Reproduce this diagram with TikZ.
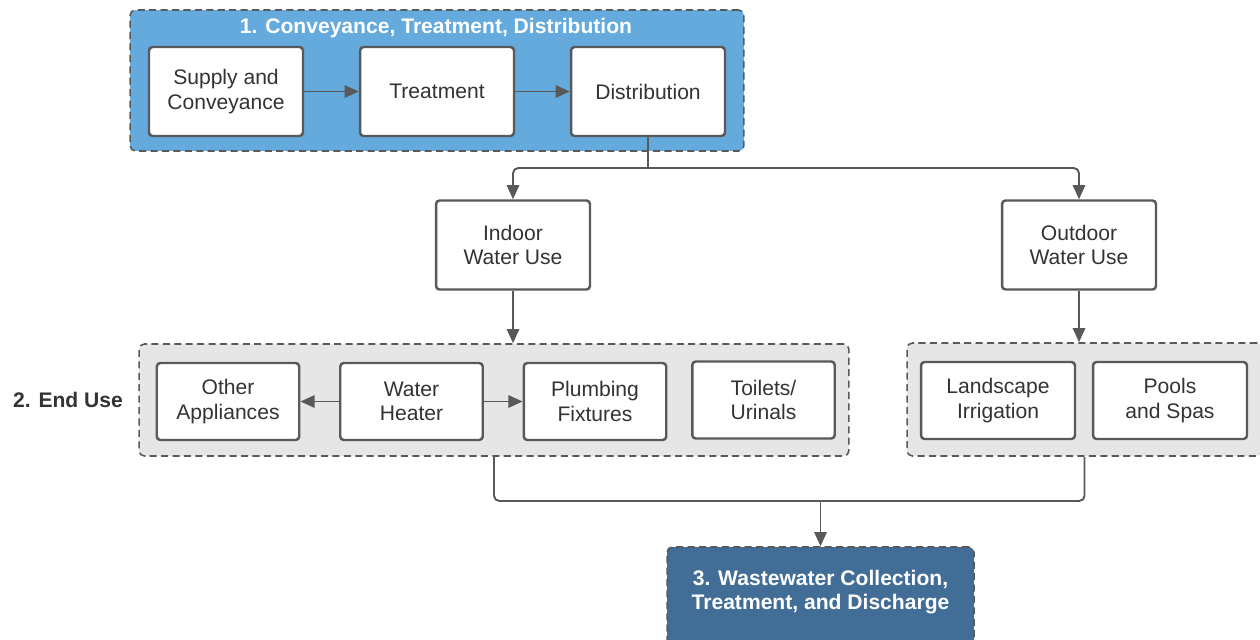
\documentclass[tikz,border=0pt]{standalone}
\usepackage{fontspec}
\setmainfont{Liberation Sans}
\usetikzlibrary{arrows.meta}
\definecolor{linegray}{RGB}{89,89,89}
\definecolor{convblue}{RGB}{100,170,221}
\definecolor{usegray}{RGB}{230,230,230}
\definecolor{wasteblue}{RGB}{65,109,150}
\begin{document}
\begin{tikzpicture}[x=0.02cm,y=-0.02cm,
    font=\fontsize{12}{14}\selectfont, text=black!80,
    stepbox/.style={draw=linegray,line width=1.4pt,fill=white,rounded corners=2pt,
      align=center,minimum width=3.08cm,minimum height=1.78cm,inner sep=0pt},
    usebox/.style={stepbox,minimum width=2.85cm,minimum height=1.54cm},
    groupbox/.style={draw=linegray,line width=0.9pt,dash pattern=on 4pt off 2.5pt,
      rounded corners=3pt,inner sep=0pt},
    flow/.style={draw=linegray,line width=1.1pt,-{Triangle[length=8pt,width=7pt]}},
    tie/.style={draw=linegray,line width=1.1pt,rounded corners=3pt}]
      \useasboundingbox (0,0) rectangle (1260,639);
      % group boxes
      \node[groupbox,fill=convblue,minimum width=12.28cm,minimum height=2.82cm] (conv) at (437,80.5) {};
      \node[groupbox,fill=usegray,minimum width=14.2cm,minimum height=2.24cm] (enduse) at (494,400) {};
      \node[groupbox,fill=usegray,minimum width=7.1cm,minimum height=2.26cm] (outuse) at (1084.5,399.5) {};
      \node[groupbox,fill=wasteblue,minimum width=6.14cm,minimum height=2.2cm] (waste) at (820.5,602) {};
      \node[font=\fontsize{12}{14}\selectfont\bfseries,text=white] (convtitle) at (436,28) {1. Conveyance, Treatment, Distribution};
      \node[font=\fontsize{12}{14}\selectfont\bfseries,text=black!80] (endtitle) at (68,400) {2. End Use};
      \node[font=\fontsize{12}{14}\selectfont\bfseries,text=white,align=center] (wastetitle) at (820.5,592) {3. Wastewater Collection,\\Treatment, and Discharge};
      % steps
      \node[stepbox] (supply) at (226,91.5) {Supply and\\Conveyance};
      \node[stepbox] (treat) at (437,91.5) {Treatment};
      \node[stepbox] (distrib) at (648,91.5) {Distribution};
      \node[stepbox] (indoor) at (513,245) {Indoor\\Water Use};
      \node[stepbox] (outdoor) at (1079,245) {Outdoor\\Water Use};
      \node[usebox] (other) at (228,401.5) {Other\\Appliances};
      \node[usebox] (heater) at (411.5,401.5) {Water\\Heater};
      \node[usebox] (plumb) at (595,401.5) {Plumbing\\Fixtures};
      \node[usebox] (toilet) at (763.5,400) {Toilets/\\Urinals};
      \node[usebox,minimum width=3.08cm] (landsc) at (998,400.5) {Landscape\\Irrigation};
      \node[usebox,minimum width=3.08cm] (pools) at (1170,400.5) {Pools\\and Spas};
      % connectors
      \draw[flow] (supply) -- (treat);
      \draw[flow] (treat) -- (distrib);
      \draw[flow] (heater) -- (other);
      \draw[flow] (heater) -- (plumb);
      \coordinate (split) at (648,168);
      \draw[tie] (distrib.south) -- (split);
      \draw[flow,rounded corners=3pt] (split) -| (indoor.north);
      \draw[flow,rounded corners=3pt] (split) -| (outdoor.north);
      \draw[flow] (indoor.south) -- (enduse.north -| indoor);
      \draw[flow] (outdoor.south) -- (outuse.north -| outdoor);
      \coordinate (merge) at (820.5,501);
      \draw[tie] (enduse.south) |- (merge);
      \draw[tie] (outuse.south) |- (merge);
      \draw[flow] (merge) -- (waste.north);
\end{tikzpicture}
\end{document}
